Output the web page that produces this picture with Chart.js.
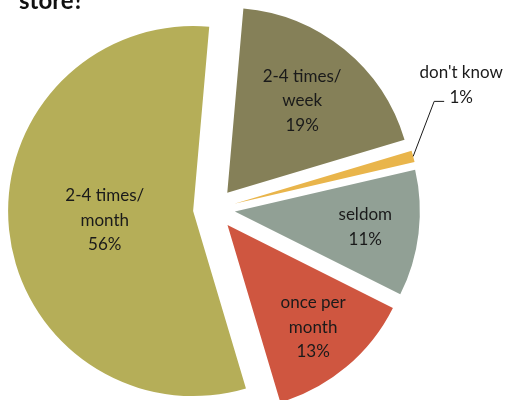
<!DOCTYPE html>
<html>
<head>
<meta charset="utf-8">
<script src="https://cdn.jsdelivr.net/npm/chart.js@4"></script>
<style>
  html, body { margin: 0; padding: 0; background: #fff; }
  #wrap { width: 507px; height: 400px; position: relative; }
</style>
</head>
<body>
<div id="wrap"><canvas id="freq"></canvas></div>
<script>
const categories = [["2-4 times/", "week"], ["don't know"], ["seldom"], ["once per", "month"], ["2-4 times/", "month"]];
const shares = [19, 1, 11, 13, 56];
const sliceColors = ["#858058", "#E9B54B", "#91A095", "#CF5640", "#B5AE58"];
const chartTitle = "store?";

const EXPLODE = 21; // how far every slice is pulled away from the middle

// pull each slice straight out along its middle angle
// (the built-in offset option also trims the slice angle, which eats the 1% wedge)
const explodeSlices = {
  id: "explodeSlices",
  afterDatasetsUpdate(chart) {
    chart.getDatasetMeta(0).data.forEach(arc => {
      const mid = (arc.startAngle + arc.endAngle) / 2;
      arc.x += Math.cos(mid) * EXPLODE;
      arc.y += Math.sin(mid) * EXPLODE;
    });
  }
};

const sliceLabels = {
  id: "sliceLabels",
  afterDatasetsDraw(chart, args, opts) {
    const { ctx } = chart;
    const meta = chart.getDatasetMeta(0);
    ctx.save();
    ctx.font = opts.font;
    ctx.fillStyle = opts.color;
    ctx.strokeStyle = opts.color;
    ctx.lineWidth = 1;
    ctx.textBaseline = "middle";
    ctx.textAlign = "center";
    meta.data.forEach((arc, i) => {
      const { x, y, startAngle, endAngle, outerRadius } = arc;
      const mid = (startAngle + endAngle) / 2;
      const cos = Math.cos(mid), sin = Math.sin(mid);
      const pct = shares[i] + "%";

      if (opts.outside[i]) {
        // small slice: name and value outside with a leader line
        const ex = x + cos * outerRadius;
        const ey = y + sin * outerRadius;
        const bx = ex + 21, by = ey - 55;
        ctx.beginPath();
        ctx.moveTo(ex, ey);
        ctx.lineTo(bx, by);
        ctx.lineTo(bx + 10, by);
        ctx.stroke();
        ctx.fillText(categories[i].join(" "), bx + 27, by - 29);
        ctx.fillText(pct, bx + 27, by - 4);
        return;
      }

      const r = opts.radial[i] * outerRadius;
      const cx = x + cos * r, cy = y + sin * r;
      const lines = [...categories[i], pct];
      lines.forEach((t, k) => {
        ctx.fillText(t, cx, cy + (k - (lines.length - 1) / 2) * opts.lineHeight);
      });
    });
    ctx.restore();
  }
};

// only the last line of the heading is in view
const headingText = {
  id: "headingText",
  afterDraw(chart) {
    const { ctx } = chart;
    ctx.save();
    ctx.font = "bold 24px Lato, 'Open Sans', sans-serif";
    ctx.fillStyle = "#111";
    ctx.textAlign = "left";
    ctx.textBaseline = "alphabetic";
    ctx.fillText(chartTitle, 19, 9);
    ctx.restore();
  }
};

new Chart(document.getElementById("freq"), {
  type: "pie",
  data: {
    labels: categories,
    datasets: [{
      data: shares,
      backgroundColor: sliceColors,
      borderWidth: 0,
      radius: 185,
      hoverOffset: 0
    }]
  },
  options: {
    responsive: true,
    maintainAspectRatio: false,
    animation: false,
    events: [],
    rotation: 5,
    layout: { padding: { left: 0, right: 79, top: 18, bottom: 0 } },
    plugins: {
      legend: { display: false },
      tooltip: { enabled: false },
      sliceLabels: {
        font: "17px Lato, 'Open Sans', sans-serif",
        color: "#1a1a1a",
        lineHeight: 24.5,
        radial: [0.64, 0, 0.71, 0.72, 0.48],
        outside: [false, true, false, false, false]
      }
    }
  },
  plugins: [explodeSlices, sliceLabels, headingText]
});
</script>
</body>
</html>
